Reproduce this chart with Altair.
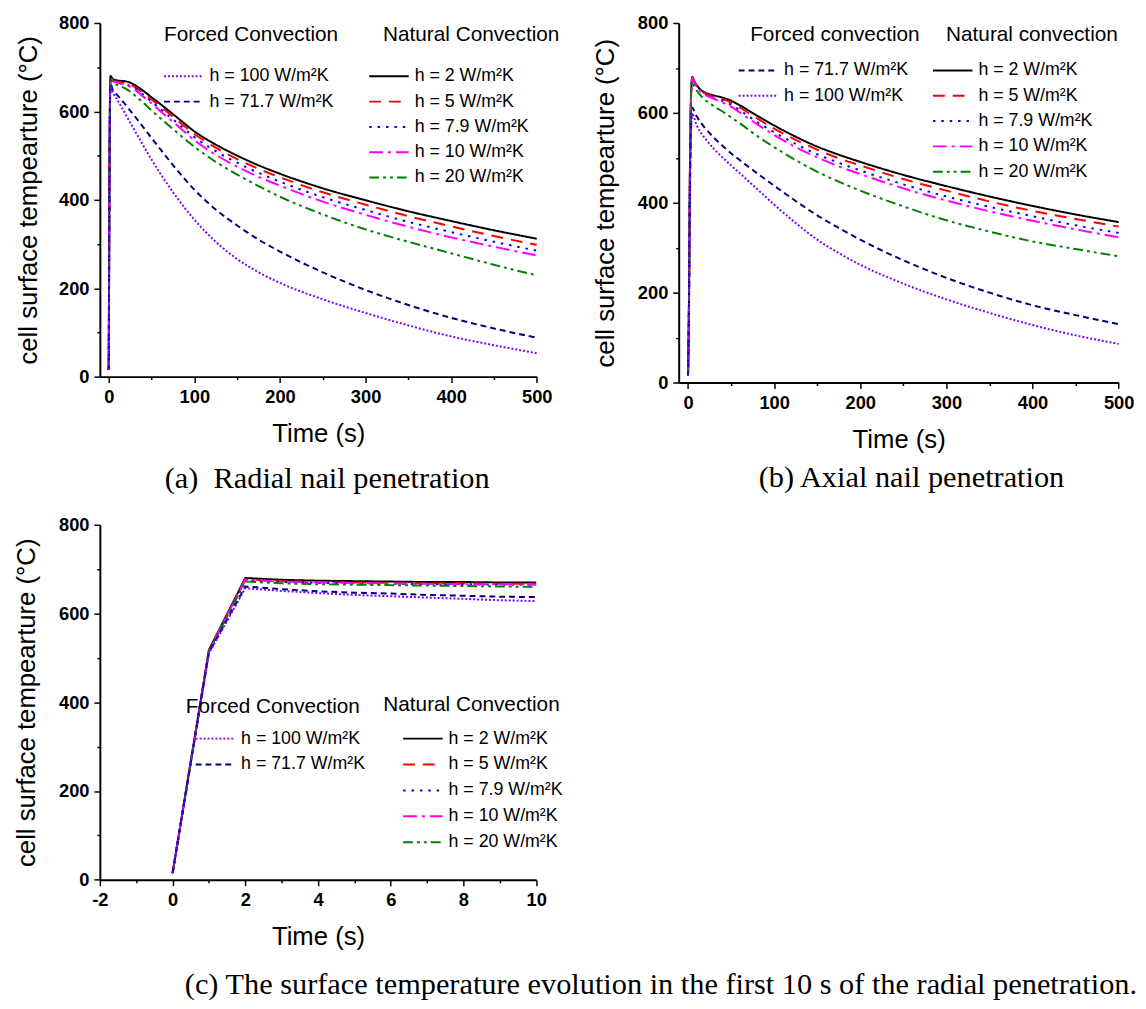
import altair as alt
import pandas as pd

FONT = "Liberation Sans"
SERIF = "Liberation Serif"

# ---- series labels
L100 = "h = 100 W/m²K"
L717 = "h = 71.7 W/m²K"
L2 = "h = 2 W/m²K"
L5 = "h = 5 W/m²K"
L79 = "h = 7.9 W/m²K"
L10 = "h = 10 W/m²K"
L20 = "h = 20 W/m²K"

# ---- panel (a): radial nail penetration
TA = [0, 1, 2, 5, 10, 20, 25, 30, 40, 50, 60, 80, 100, 125, 150, 175, 200, 250, 300, 350, 400, 450, 500]
A_2 = [15, 518, 680, 673, 670, 668, 665, 660, 647, 632, 617, 586, 555, 525, 500, 478, 459, 426, 399, 374, 352, 331, 312]
A_5 = [15, 517, 677, 670, 667, 664, 661, 656, 642, 627, 612, 580, 549, 518, 492, 470, 451, 417, 389, 363, 340, 318, 298]
A_79 = [15, 516, 675, 668, 665, 661, 658, 653, 638, 622, 606, 574, 542, 510, 484, 461, 441, 406, 377, 350, 327, 305, 285]
A_10 = [15, 516, 676, 669, 665, 660, 656, 650, 634, 618, 601, 568, 535, 502, 475, 452, 432, 396, 366, 339, 315, 294, 274]
A_20 = [15, 515, 672, 665, 660, 651, 645, 637, 620, 602, 585, 552, 520, 486, 457, 431, 407, 367, 333, 305, 279, 253, 229]
A_717 = [15, 512, 661, 647, 637, 614, 602, 590, 565, 540, 515, 467, 423, 378, 342, 310, 283, 236, 196, 162, 133, 109, 88]
A_100 = [15, 510, 657, 642, 626, 592, 575, 558, 524, 491, 460, 404, 355, 305, 266, 236, 212, 175, 144, 116, 91, 71, 53]

# ---- panel (b): axial nail penetration
TB = [0, 1, 2, 3, 4, 5, 7, 10, 15, 20, 30, 40, 50, 60, 80, 100, 125, 150, 175, 200, 250, 300, 350, 400, 450, 500]
B_2 = [15, 150, 420, 590, 660, 680, 672, 662, 651, 645, 639, 634, 627, 617, 594, 572, 547, 525, 507, 491, 462, 437, 414, 393, 374, 357]
B_5 = [15, 150, 418, 588, 658, 678, 670, 660, 649, 643, 636, 631, 623, 612, 588, 565, 540, 518, 499, 483, 453, 427, 403, 382, 364, 347]
B_79 = [15, 150, 417, 587, 657, 677, 669, 659, 648, 641, 633, 627, 618, 606, 580, 557, 531, 508, 489, 472, 441, 414, 391, 370, 350, 333]
B_10 = [15, 150, 418, 588, 658, 678, 670, 659, 647, 640, 631, 623, 614, 601, 575, 551, 524, 501, 481, 464, 432, 405, 381, 360, 341, 323]
B_20 = [15, 150, 415, 585, 670, 668, 660, 650, 638, 629, 615, 603, 590, 577, 549, 524, 495, 469, 447, 427, 392, 361, 336, 314, 297, 281]
B_717 = [15, 140, 380, 520, 590, 612, 605, 593, 578, 566, 545, 527, 510, 495, 466, 438, 404, 372, 344, 318, 272, 233, 200, 172, 150, 130]
B_100 = [15, 140, 370, 510, 580, 600, 590, 573, 556, 543, 520, 501, 483, 466, 431, 396, 355, 318, 288, 262, 220, 185, 155, 128, 105, 86]

# ---- panel (c): first 10 s of the radial penetration
TC = [0, 1, 2, 3, 4, 5, 6, 7, 8, 9, 10]
C_2 = [15, 518, 680, 676, 674, 673, 672, 671, 671, 670, 670]
C_5 = [15, 517, 677, 673, 671, 670, 669, 668, 668, 667, 667]
C_79 = [15, 516, 675, 671, 669, 668, 667, 666, 666, 665, 665]
C_10 = [15, 516, 676, 672, 670, 669, 668, 667, 666, 666, 665]
C_20 = [15, 515, 672, 668, 666, 665, 664, 663, 662, 661, 660]
C_717 = [15, 512, 661, 655, 650, 647, 645, 642, 640, 638, 637]
C_100 = [15, 510, 657, 651, 646, 642, 639, 636, 633, 630, 628]

COL = {L100: "#8000FF", L717: "#000080", L2: "#000000", L5: "#FF0000",
       L79: "#0000FF", L10: "#FF00FF", L20: "#008000"}
DASH = {L100: [2, 2], L717: [6, 4], L2: [1, 0], L5: [12, 8],
        L79: [2.5, 6], L10: [14, 5, 3, 5], L20: [10, 4, 3, 4, 3, 4]}


def long_df(t, series):
    rows = []
    for lab, vals in series.items():
        for ti, vi in zip(t, vals):
            rows.append({"t": ti, "v": vi, "s": lab})
    return pd.DataFrame(rows)


dfA = long_df(TA, {L2: A_2, L5: A_5, L79: A_79, L10: A_10, L20: A_20, L717: A_717, L100: A_100})
dfB = long_df(TB, {L2: B_2, L5: B_5, L79: B_79, L10: B_10, L20: B_20, L717: B_717, L100: B_100})
dfC = long_df(TC, {L2: C_2, L5: C_5, L79: C_79, L10: C_10, L20: C_20, L717: C_717, L100: C_100})

NATURAL = [L2, L5, L79, L10, L20]

AXIS_STYLE = dict(grid=False, labelFlush=False, labelOverlap=False,
                  labelFont=FONT, labelFontSize=18.5, labelFontWeight="bold", labelColor="black",
                  titleFont=FONT, titleFontSize=26, titleFontWeight="normal", titleColor="black",
                  domainColor="black", domainWidth=2, tickColor="black", tickWidth=1.5,
                  labelPadding=5)


def x_axis(values, major):
    return alt.Axis(values=values,
                    labelExpr=f"datum.value % {major} == 0 ? '' + datum.value : ''",
                    tickSize={"condition": {"test": f"datum.value % {major} != 0", "value": 3}, "value": 6},
                    title="Time (s)", titlePadding=15.5, **AXIS_STYLE)


def y_axis(tp):
    return alt.Axis(values=list(range(0, 801, 100)),
                    labelExpr="datum.value % 200 == 0 ? '' + datum.value : ''",
                    tickSize={"condition": {"test": "datum.value % 200 != 0", "value": 3}, "value": 6},
                    title="cell surface tempearture (°C)", titlePadding=tp, **AXIS_STYLE)


def legend(title, lx, ly, tp, so, rp=7.6):
    return alt.Legend(title=title, orient="none", legendX=lx, legendY=ly, titlePadding=tp,
                      symbolOffset=so, labelOffset=17, symbolType="M-4,0H4", symbolSize=100,
                      symbolStrokeWidth=2, rowPadding=rp, padding=0,
                      titleFont=FONT, titleFontSize=21, titleFontWeight="normal", titleColor="black",
                      titleAnchor="start", titleLimit=400,
                      labelFont=FONT, labelFontSize=18, labelColor="black", labelLimit=300)


def panel(df, forced, legF, legN, xdom, xaxis, yaxis, interp, w, h, caption):
    base = alt.Chart(df)

    def grp(order, leg):
        return base.transform_filter(
            alt.FieldOneOfPredicate(field="s", oneOf=order)
        ).mark_line(strokeWidth=2, interpolate=interp, strokeCap="butt").encode(
            x=alt.X("t:Q", scale=alt.Scale(domain=xdom, nice=False, zero=False), axis=xaxis),
            y=alt.Y("v:Q", scale=alt.Scale(domain=[0, 800], nice=False, zero=False), axis=yaxis),
            color=alt.Color("s:N", scale=alt.Scale(domain=order, range=[COL[k] for k in order]), legend=leg),
            strokeDash=alt.StrokeDash("s:N", scale=alt.Scale(domain=order, range=[DASH[k] for k in order]), legend=leg),
        )

    return alt.layer(grp(NATURAL, legN), grp(forced, legF)).resolve_scale(
        color="independent", strokeDash="independent"
    ).properties(width=w, height=h, title=caption)


CAP = dict(orient="bottom", frame="group", font=SERIF, fontSize=30.7, fontWeight="normal", color="black")
capA = alt.TitleParams(text="(a)\u00a0 Radial nail penetration", anchor="middle", offset=18, dx=9, **CAP)
capB = alt.TitleParams(text="(b) Axial nail penetration", anchor="middle", offset=11, dx=13, **CAP)
capC = alt.TitleParams(text="(c) The surface temperature evolution in the first 10 s of the radial penetration.",
                       anchor="start", offset=21, dx=86, **CAP)

pa = panel(dfA, [L100, L717],
           legend("Forced Convection", 65, 0.8, 23.2, 11),
           legend("Natural Convection", 286.7, 0.8, 23.2, -3),
           [-10.4, 500], x_axis(list(range(0, 501, 50)), 100), y_axis(17.7),
           "monotone", 442.3, 358, capA)

pb = panel(dfB, [L717, L100],
           legend("Forced convection", 72.4, 1.7, 16.4, -0.7),
           legend("Natural convection", 270.7, 1.7, 16.4, -2.3),
           [-10.8, 500], x_axis(list(range(0, 501, 50)), 100), y_axis(19),
           "monotone", 445.4, 364, capB)

pc = panel(dfC, [L100, L717],
           legend("Forced Convection", 87, 173.4, 13.1, 21, 8.2),
           legend("Natural Convection", 287, 171.7, 14.8, 31, 8.2),
           [-2, 10], x_axis(list(range(-2, 11, 1)), 2), y_axis(19),
           "linear", 441.7, 359.4, capC)

top = alt.hconcat(pa, pb, spacing=33).resolve_scale(color="independent", strokeDash="independent")
bottom = alt.hconcat(pc).resolve_scale(color="independent", strokeDash="independent")

chart = alt.vconcat(top, bottom, spacing=22).resolve_scale(
    color="independent", strokeDash="independent"
).properties(
    padding={"left": 6, "top": 0, "right": 0, "bottom": 0}
).configure_view(strokeWidth=0)

chart.save("out.html", embed_options={"renderer": "svg", "actions": False})
